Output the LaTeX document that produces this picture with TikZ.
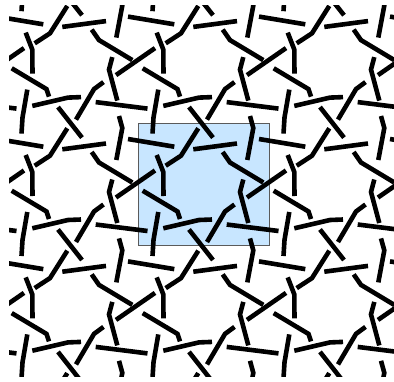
\documentclass[tikz,border=0pt]{standalone}
\definecolor{cellblue}{RGB}{200,230,255}
\definecolor{celledge}{RGB}{90,90,90}
\begin{document}
\begin{tikzpicture}[x=1pt,y=-1pt,
  rod/.style={line width=4.6pt, line cap=butt, line join=miter, black},
  celledge/.style={line width=0.6pt, draw=celledge, fill=cellblue}]
\useasboundingbox (0,0) rectangle (394,381);
\draw[celledge] (138.3,123.3) rectangle (269.3,245.7);
\begin{scope}
\clip (9,5) rectangle (394,376);
\foreach \i in {-2,...,2}{
 \foreach \j in {-2,...,2}{
  \begin{scope}[shift={(\i*131,\j*122.4)}]
   \draw[rod] (158.3,212) -- (153.5,240) -- (152.5,256);
   \draw[rod] (128,139) -- (174.3,146.7);
   \draw[rod] (198.3,128.3) -- (181,155.7) -- (165.7,165.7);
   \draw[rod] (155,170.5) -- (116,197.5);
   \draw[rod] (193.3,149.3) -- (237,143.5);
   \draw[rod] (250,116) -- (253.3,128) -- (247.3,160);
   \draw[rod] (222.7,152) -- (230,162.5) -- (263.3,182.5);
   \draw[rod] (156.7,155) -- (163.3,172) -- (163.5,196);
   \draw[rod] (142.7,190.7) -- (177.5,211.5) -- (180,219);
   \draw[rod] (163.3,228.3) -- (199,220) -- (212,219.5);
   \draw[rod] (189,229.5) -- (213,260);
   \draw[rod] (234.5,204.5) -- (225,211.5) -- (207,242);
   \draw[rod] (226.7,224.5) -- (278.5,231);
   \draw[rod] (243.3,179.5) -- (240,192) -- (248.3,223);
  \end{scope}
 }}
\end{scope}
\end{tikzpicture}
\end{document}
